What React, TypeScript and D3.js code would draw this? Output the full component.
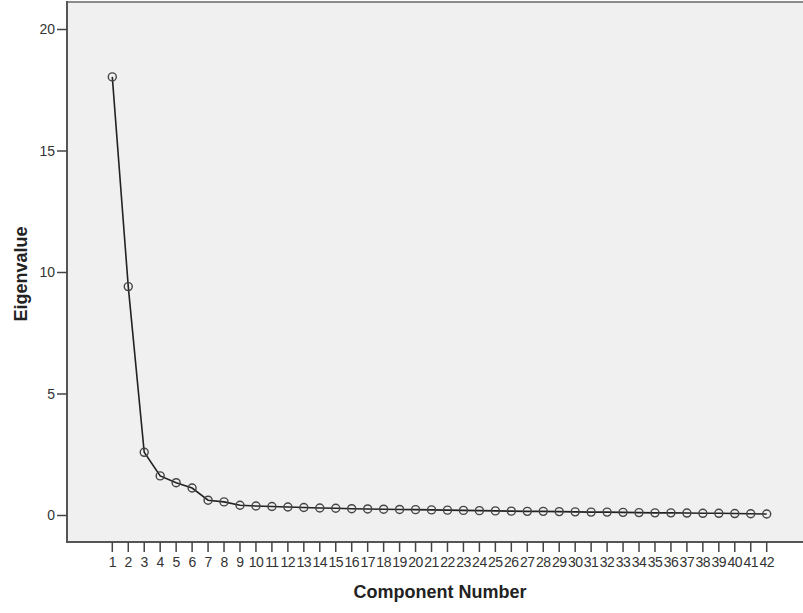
import React from "react";
import * as d3 from "d3";

const components: number[] = d3.range(1, 43);
const eigenvalues: number[] = [
  18.05, 9.42, 2.6, 1.63, 1.35, 1.13, 0.63, 0.56, 0.42, 0.39,
  0.37, 0.35, 0.33, 0.31, 0.3, 0.28, 0.27, 0.26, 0.25, 0.24,
  0.23, 0.22, 0.21, 0.2, 0.19, 0.18, 0.17, 0.17, 0.16, 0.15,
  0.14, 0.14, 0.13, 0.12, 0.11, 0.11, 0.1, 0.09, 0.09, 0.08,
  0.07, 0.06,
];
const yTicks: number[] = [0, 5, 10, 15, 20];
const xTitle = "Component Number";
const yTitle = "Eigenvalue";

export default function App() {
  const W = 803;
  const H = 613;
  const plotLeft = 67;
  const plotTop = 2;
  const plotBottom = 542;
  const x = d3.scaleLinear().domain([1, 42]).range([112.3, 766.7]);
  const y = d3.scaleLinear().domain([0, 20]).range([515.5, 29.5]);
  const data = components.map((c, i) => ({ c, v: eigenvalues[i] }));
  const line = d3
    .line<{ c: number; v: number }>()
    .x((d) => x(d.c))
    .y((d) => y(d.v));
  const font = "'Liberation Sans', Arial, sans-serif";
  return (
    <svg
      width={W}
      height={H}
      style={{ position: "absolute", left: 0, top: 0, background: "#fff" }}
      fontFamily={font}
    >
      <rect x={plotLeft} y={plotTop} width={W - plotLeft + 5} height={plotBottom - plotTop} fill="#f0f0f0" />
      <line x1={plotLeft} x2={W} y1={plotTop} y2={plotTop} stroke="#8a8a8a" strokeWidth={2} />
      <line x1={plotLeft} x2={plotLeft} y1={plotTop - 1} y2={plotBottom} stroke="#555" strokeWidth={2} />
      <line x1={plotLeft - 1} x2={W} y1={plotBottom} y2={plotBottom} stroke="#555" strokeWidth={2} />
      {yTicks.map((t) => (
        <g key={t}>
          <line x1={57} x2={plotLeft} y1={y(t)} y2={y(t)} stroke="#444" strokeWidth={1.5} />
          <text x={55} y={y(t)} dy="0.35em" textAnchor="end" fontSize={14} fill="#333">
            {t}
          </text>
        </g>
      ))}
      {components.map((c) => (
        <g key={c}>
          <line x1={x(c)} x2={x(c)} y1={plotBottom} y2={552} stroke="#444" strokeWidth={1.5} />
          <text x={x(c)} y={567} textAnchor="middle" fontSize={14} fill="#333" letterSpacing={-0.5}>
            {c}
          </text>
        </g>
      ))}
      <path d={line(data) || ""} fill="none" stroke="#222" strokeWidth={1.6} />
      {data.map((d) => (
        <circle
          key={d.c}
          cx={x(d.c)}
          cy={y(d.v)}
          r={4}
          fill="none"
          stroke="#444"
          strokeWidth={1.4}
        />
      ))}
      <text x={440} y={598} textAnchor="middle" fontSize={18} fontWeight="bold" fill="#222">
        {xTitle}
      </text>
      <text
        transform={`translate(27,274) rotate(-90)`}
        textAnchor="middle"
        fontSize={18}
        fontWeight="bold"
        fill="#222"
      >
        {yTitle}
      </text>
    </svg>
  );
}
